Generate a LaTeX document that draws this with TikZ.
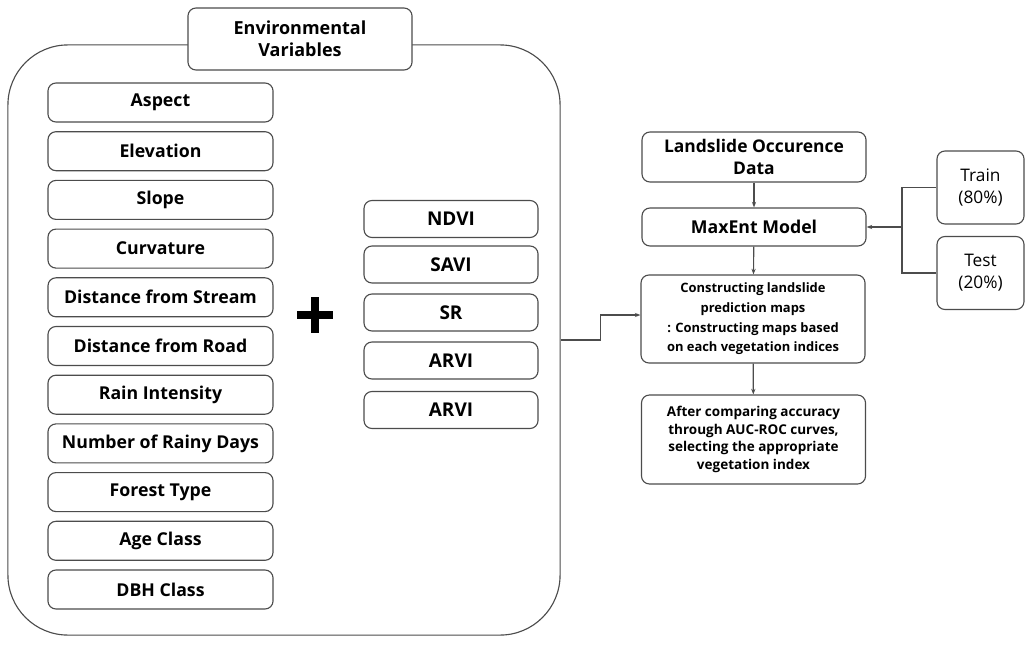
\documentclass[tikz,border=0pt]{standalone}
\usepackage{fontspec}
\setmainfont{Open Sans}
\usepackage{tikz}
\usetikzlibrary{arrows.meta}

\begin{document}
\begin{tikzpicture}[x=0.025cm, y=-0.025cm,
    line/.style={draw=black!70, line width=0.8pt},
    box/.style={line, rounded corners=0.2cm, fill=white, align=center, inner sep=1pt},
    varbox/.style={box, minimum width=5.625cm, minimum height=0.975cm, font=\bfseries\fontsize{12.6}{14}\selectfont},
    vibox/.style={box, minimum width=4.35cm, minimum height=0.925cm, font=\bfseries\fontsize{13.5}{15}\selectfont},
    stepbox/.style={box, minimum width=5.6cm, font=\fontsize{12}{14}\selectfont},
    arr/.style={line, -{Stealth[length=4pt, width=3pt]}}]
    \useasboundingbox (0,0) rectangle (1031,644);
            % container of the variables
            \node[line, rounded corners=1.5cm, minimum width=13.8cm, minimum height=14.75cm] (env) at (284, 340) {};
            \node[box, minimum width=5.6cm, minimum height=1.55cm, font=\bfseries\fontsize{12.8}{16}\selectfont] (title) at (300, 39) {Environmental\\Variables};
            \node[varbox] (aspect) at (160.5, 102.5) {Aspect};
            \node[varbox] (elev) at (160.5, 151.2) {Elevation};
            \node[varbox] (slope) at (160.5, 199.9) {Slope};
            \node[varbox] (curv) at (160.5, 248.6) {Curvature};
            \node[varbox] (stream) at (160.5, 297.3) {Distance from Stream};
            \node[varbox] (road) at (160.5, 346) {Distance from Road};
            \node[varbox] (rain) at (160.5, 394.7) {Rain Intensity};
            \node[varbox] (days) at (160.5, 443.4) {Number of Rainy Days};
            \node[varbox] (forest) at (160.5, 492.1) {Forest Type};
            \node[varbox] (age) at (160.5, 540.8) {Age Class};
            \node[varbox] (dbh) at (160.5, 589.5) {DBH Class};
            % plus sign
            \fill (311, 297) rectangle (319, 333);
            \fill (297, 311) rectangle (333, 319);
            % vegetation indices
            \node[vibox] (ndvi) at (451, 219) {NDVI};
            \node[vibox] (savi) at (451, 264.5) {SAVI};
            \node[vibox] (sr) at (451, 312.5) {SR};
            \node[vibox] (arvi1) at (451, 360.5) {ARVI};
            \node[vibox] (arvi2) at (451, 410) {ARVI};
            % model steps
            \node[stepbox, minimum height=1.25cm, font=\bfseries\fontsize{12.4}{15}\selectfont] (occ) at (754, 157) {Landslide Occurence\\Data};
            \node[stepbox, minimum height=0.95cm, font=\bfseries\fontsize{12.6}{14}\selectfont] (maxent) at (754, 227) {MaxEnt Model};
            \node[stepbox, minimum height=2.2cm, font=\bfseries\fontsize{9.2}{14}\selectfont] (maps) at (753, 319) {Constructing landslide\\prediction maps\\: Constructing maps based\\on each vegetation indices};
            \node[stepbox, minimum height=2.225cm, font=\bfseries\fontsize{9.6}{12.5}\selectfont] (select) at (753.5, 439.5) {After comparing accuracy\\through AUC-ROC curves,\\selecting the appropriate\\vegetation index};
            \node[box, minimum width=2.175cm, minimum height=1.825cm, font=\fontsize{12.3}{15.5}\selectfont] (train) at (980.5, 187.5) {Train\\(80\%)};
            \node[box, minimum width=2.175cm, minimum height=1.825cm, font=\fontsize{12.3}{15.5}\selectfont] (test) at (980.5, 273) {Test\\(20\%)};
            \coordinate (split) at (902, 227);
            \draw[arr] (occ) -- (maxent);
            \draw[arr] (maxent) -- (maps);
            \draw[arr] (maps) -- (select);
            \draw[line] (train.west) -| (split) |- (test.west);
            \draw[arr] (split) -- (maxent.east);
            \draw[arr] (env.east) -- ++(40, 0) |- (maps.west |- 0, 315);
    \end{tikzpicture}
\end{document}
